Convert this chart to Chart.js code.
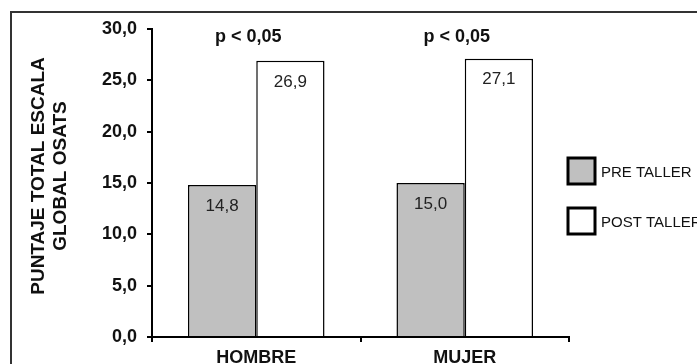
<!DOCTYPE html>
<html><head><meta charset="utf-8">
<script src="https://cdn.jsdelivr.net/npm/chart.js@4.4.0/dist/chart.umd.min.js"></script>
<style>html,body{margin:0;padding:0;background:#fff;overflow:hidden}#wrap{width:697px;height:364px;position:relative}</style>
</head><body><div id="wrap"><canvas id="c" width="697" height="364"></canvas></div>
<script>
const categories = ['HOMBRE', 'MUJER'];
const preValues = [14.8, 15.0];
const postValues = [26.9, 27.1];
const seriesNames = ['PRE TALLER', 'POST TALLER'];
const significance = ['p < 0,05', 'p < 0,05'];
const yAxisTitle = ['PUNTAJE TOTAL ESCALA', 'GLOBAL OSATS'];
const yMin = 0, yMax = 30, yStep = 5;

const fmt = v => v.toFixed(1).replace('.', ',');
const FONT = '"Liberation Sans", Arial, sans-serif';

const extras = {
  id: 'extras',
  beforeDraw(chart) {
    const ctx = chart.ctx;
    ctx.save();
    ctx.fillStyle = '#fff';
    ctx.fillRect(0, 0, chart.width, chart.height);
    ctx.strokeStyle = '#333';
    ctx.lineWidth = 2;
    ctx.strokeRect(11, 12, 900, 600);
    ctx.restore();
  },
  afterDatasetsDraw(chart) {
    const ctx = chart.ctx;
    ctx.save();
    ctx.fillStyle = '#222';
    ctx.font = '17px ' + FONT;
    ctx.textAlign = 'center';
    ctx.textBaseline = 'middle';
    chart.data.datasets.forEach((ds, di) => {
      const meta = chart.getDatasetMeta(di);
      meta.data.forEach((el, i) => {
        ctx.fillText(fmt(ds.data[i]), el.x, el.y + 21);
      });
    });
    // significance labels
    const xs = chart.scales.x, ys = chart.scales.y;
    ctx.fillStyle = '#111';
    ctx.font = 'bold 18px ' + FONT;
    significance.forEach((t, i) => {
      ctx.fillText(t, xs.getPixelForValue(i) - 8, ys.getPixelForValue(yMax) + 8);
    });
    // y title
    ctx.save();
    ctx.font = 'bold 19px ' + FONT;
    ctx.translate(39, 176);
    ctx.rotate(-Math.PI / 2);
    ctx.fillText(yAxisTitle[0], 0, 0);
    ctx.fillText(yAxisTitle[1], 0, 22);
    ctx.restore();
    // legend
    const lx = chart.chartArea.right;
    const rows = [171, 221];
    ctx.font = '15px ' + FONT;
    ctx.textAlign = 'left';
    chart.data.datasets.forEach((ds, di) => {
      const cy = rows[di];
      ctx.fillStyle = ds.backgroundColor;
      ctx.fillRect(lx - 1, cy - 13, 27, 26);
      ctx.strokeStyle = '#000';
      ctx.lineWidth = 3;
      ctx.strokeRect(lx - 1, cy - 13, 27, 26);
      ctx.fillStyle = '#111';
      ctx.fillText(ds.label, lx + 32, cy + 2);
    });
    ctx.restore();
  }
};

new Chart(document.getElementById('c'), {
  type: 'bar',
  data: {
    labels: categories,
    datasets: [
      { label: seriesNames[0], data: preValues, backgroundColor: '#c0c0c0', borderColor: '#000', borderWidth: 1.5, borderSkipped: 'bottom' },
      { label: seriesNames[1], data: postValues, backgroundColor: '#ffffff', borderColor: '#000', borderWidth: 1.5, borderSkipped: 'bottom' }
    ]
  },
  options: {
    responsive: false,
    animation: false,
    devicePixelRatio: 1,
    layout: { padding: { left: 0, right: 128, top: 29, bottom: 0 } },
    datasets: { bar: { barPercentage: 1, categoryPercentage: 0.655 } },
    plugins: { legend: { display: false }, tooltip: { enabled: false } },
    scales: {
      x: {
        afterFit(s) { s.height = 27; },
        border: { display: true, color: '#000', width: 2 },
        grid: { display: true, drawOnChartArea: false, drawTicks: true, tickLength: 5, color: '#000', lineWidth: 2 },
        ticks: { color: '#111', font: { family: FONT, size: 18, weight: 'bold' }, padding: 5 }
      },
      y: {
        min: yMin, max: yMax,
        afterFit(s) { s.width = 152; },
        border: { display: true, color: '#000', width: 2 },
        grid: { display: true, drawOnChartArea: false, drawTicks: true, tickLength: 5, color: '#000', lineWidth: 2 },
        ticks: { stepSize: yStep, color: '#111', font: { family: FONT, size: 18, weight: 'bold' }, padding: 10, callback: v => fmt(v) }
      }
    }
  },
  plugins: [extras]
});
</script></body></html>
